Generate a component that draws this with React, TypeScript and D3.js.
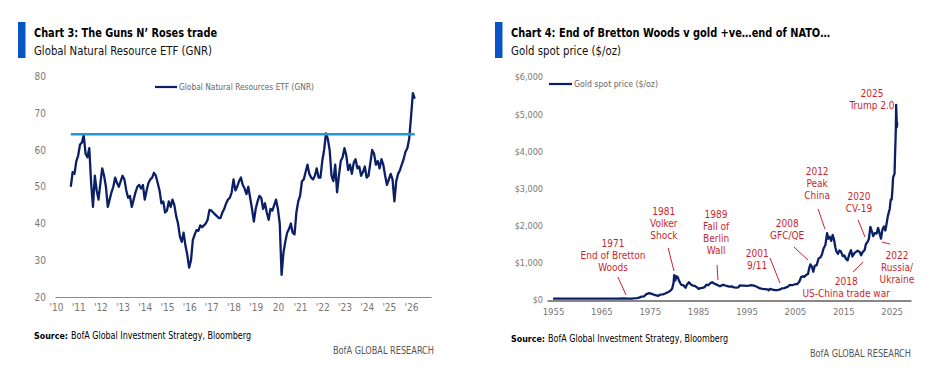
import { useEffect, useRef } from "react";
import * as d3 from "d3";

const FONT = "'Liberation Sans Narrow', 'DejaVu Sans Condensed', 'Roboto Condensed', Roboto, sans-serif";
const NAVY = "#0b1f66";
const RED = "#cc1f2d";

// GNR monthly closes, first point Sep 2010
const gnrStart = 2010 + 8 / 12;
const gnr2010 = [50, 54, 53.5, 57];
const gnr2011 = [58.5, 61.5, 62, 64, 59, 58, 60.5, 51, 44.5, 53, 49, 46.5];
const gnr2012 = [51, 55, 53, 50, 44.5, 46.5, 48.5, 50, 52.5, 51, 50, 51.5];
const gnr2013 = [53, 52, 49, 47, 47.5, 44.5, 46.5, 48.5, 50, 50.5, 49.5, 50.5];
const gnr2014 = [46.5, 49, 51, 52, 52.5, 53.8, 53, 51, 49, 45.5, 46, 43];
const gnr2015 = [43.5, 46, 44.5, 46.5, 45, 42, 40, 36.5, 35, 37.5, 34, 31.5];
const gnr2016 = [28, 30, 35.5, 37, 38.2, 38, 39.5, 39, 39.5, 40, 41, 43.7];
const gnr2017 = [43.5, 43, 42.5, 42, 41.5, 41.5, 43, 44, 45.5, 46.5, 47, 48.5];
const gnr2018 = [52, 49, 50, 51.5, 52.5, 50.5, 49.5, 48, 50, 47, 44, 40.5];
const gnr2019 = [44, 46, 47.5, 47, 44, 45.5, 43, 41, 44, 43.5, 45, 46.5];
const gnr2020 = [44, 40, 26, 32, 35, 37.5, 38.5, 40, 37.5, 37, 43, 46];
const gnr2021 = [47.5, 51.5, 52, 54, 56, 53.5, 52.5, 52, 53, 55, 52.5, 52.5];
const gnr2022 = [57, 60, 64.5, 63, 60, 53, 51.5, 56, 48.5, 53, 57, 58];
const gnr2023 = [60.5, 58.5, 54.5, 56, 53.5, 56.5, 57.5, 55, 55.5, 53, 54, 55.5];
const gnr2024 = [52.5, 53, 56.5, 60, 59, 56, 57, 55, 57.5, 56, 53, 50.5];
const gnr2025 = [52, 53.5, 52, 46, 51.5, 53.5, 54.5, 56, 57.5, 59.5, 60.5, 63];
const gnr2026 = [69, 75.5, 74];
const gnrValues = [
  ...gnr2010, ...gnr2011, ...gnr2012, ...gnr2013, ...gnr2014, ...gnr2015, ...gnr2016, ...gnr2017,
  ...gnr2018, ...gnr2019, ...gnr2020, ...gnr2021, ...gnr2022, ...gnr2023, ...gnr2024, ...gnr2025, ...gnr2026,
];
const gnrResistance = 64.3;
const gnrYearTicks = [2010, 2011, 2012, 2013, 2014, 2015, 2016, 2017, 2018, 2019, 2020, 2021, 2022, 2023, 2024, 2025, 2026];
const gnrYearLabels = ["'10", "'11", "'12", "'13", "'14", "'15", "'16", "'17", "'18", "'19", "20", "'21", "'22", "'23", "'24", "'25", "'26"];
const gnrYTicks = [20, 30, 40, 50, 60, 70, 80];

// Gold spot price ($/oz)
const goldDates = [
  1955.0, 1957.0, 1960.0, 1962.0, 1965.0, 1967.0, 1968.5, 1969.5, 1970.5, 1971.5, 1972.3, 1972.8,
  1973.3, 1973.8, 1974.3, 1974.9, 1975.4, 1975.9, 1976.4, 1976.7, 1977.2, 1977.7, 1978.2, 1978.7,
  1979.2, 1979.6, 1979.9, 1980.05, 1980.25, 1980.5, 1980.75, 1981.1, 1981.5, 1981.9, 1982.4, 1982.7,
  1983.1, 1983.5, 1983.9, 1984.3, 1984.7, 1985.1, 1985.5, 1985.9, 1986.3, 1986.7, 1987.1, 1987.5,
  1987.9, 1988.3, 1988.7, 1989.1, 1989.5, 1989.9, 1990.2, 1990.6, 1990.9, 1991.4, 1991.9, 1992.4,
  1992.9, 1993.3, 1993.6, 1994.0, 1994.5, 1995.0, 1995.5, 1996.0, 1996.5, 1996.9, 1997.3, 1997.8,
  1998.3, 1998.8, 1999.3, 1999.6, 1999.8, 2000.2, 2000.6, 2001.0, 2001.4, 2001.8, 2002.3, 2002.8,
  2003.2, 2003.6, 2003.9, 2004.3, 2004.7, 2005.1, 2005.5, 2005.9, 2006.3, 2006.6, 2006.9, 2007.3,
  2007.7, 2008.0, 2008.2, 2008.5, 2008.8, 2009.1, 2009.5, 2009.9, 2010.3, 2010.6, 2010.9, 2011.3,
  2011.65, 2011.9, 2012.2, 2012.5, 2012.8, 2013.1, 2013.35, 2013.6, 2013.9, 2014.2, 2014.5, 2014.9,
  2015.2, 2015.6, 2015.9, 2016.3, 2016.6, 2016.9, 2017.3, 2017.7, 2018.0, 2018.4, 2018.7, 2019.0,
  2019.4, 2019.7, 2020.0, 2020.3, 2020.6, 2020.9, 2021.2, 2021.5, 2021.9, 2022.2, 2022.5, 2022.8,
  2023.1, 2023.4, 2023.7, 2023.95, 2024.2, 2024.4, 2024.6, 2024.8, 2025.0, 2025.15, 2025.3, 2025.45,
  2025.6, 2025.7, 2025.8, 2025.87, 2025.93, 2026.0, 2026.08, 2026.15,
];
const goldPrices = [
  35, 35, 35, 35, 35, 35, 39, 41, 36, 41, 50, 64,
  90, 100, 160, 185, 165, 140, 125, 110, 145, 150, 175, 210,
  240, 300, 450, 670, 520, 640, 620, 500, 410, 400, 330, 420,
  480, 420, 390, 380, 345, 300, 320, 325, 345, 410, 400, 450,
  480, 445, 420, 395, 370, 400, 410, 390, 380, 360, 365, 340,
  335, 340, 390, 385, 385, 380, 385, 400, 385, 370, 345, 310,
  300, 295, 285, 258, 300, 285, 275, 265, 268, 280, 310, 320,
  340, 365, 405, 400, 410, 425, 430, 490, 620, 640, 620, 670,
  700, 880, 960, 900, 760, 920, 940, 1120, 1150, 1230, 1380, 1480,
  1800, 1650, 1700, 1590, 1750, 1620, 1420, 1300, 1240, 1330, 1310, 1180,
  1200, 1100, 1070, 1250, 1340, 1170, 1260, 1300, 1330, 1290, 1200, 1290,
  1340, 1510, 1560, 1650, 1970, 1850, 1720, 1800, 1790, 1940, 1800, 1650,
  1900, 1980, 1870, 2050, 2250, 2350, 2450, 2700, 2700, 2950, 3300, 3350,
  3400, 3900, 4300, 4650, 5250, 5000, 4650, 4780,
];
const goldYearTicks = [1955, 1965, 1975, 1985, 1995, 2005, 2015, 2025];
const goldYTicks = [0, 1000, 2000, 3000, 4000, 5000, 6000];

// event annotations in data units: [year, price] of first text line, leader start/end
const goldEvents = [
  { lines: ["1971", "End of Bretton", "Woods"], at: [1967.4, 1426], leader: [[1968.4, 619], [1970.1, 134]] },
  { lines: ["1981", "Volker", "Shock"], at: [1977.9, 2287], leader: [[1978.8, 1399], [1980.0, 780]] },
  { lines: ["1989", "Fall of", "Berlin", "Wall"], at: [1988.7, 2206], leader: [[1988.9, 942], [1989.1, 538]] },
  { lines: ["2001", "9/11"], at: [1997.2, 1157], leader: [[1999.85, 1130], [2001.9, 457]] },
  { lines: ["2008", "GFC/QE"], at: [2003.4, 1964], leader: [[2004.8, 1426], [2007.7, 1076]] },
  { lines: ["2012", "Peak", "China"], at: [2009.6, 3363], leader: [[2009.8, 2448], [2011.2, 1910]] },
  { lines: ["2020", "CV-19"], at: [2018.25, 2690], leader: [[2018.05, 2152], [2019.5, 1695]] },
  { lines: ["2018", "US-China trade war"], at: [2015.6, 404], leader: [[2017.0, 753], [2019.1, 1022]] },
  { lines: ["2022", "Russia/", "Ukraine"], at: [2026.1, 1103], leader: [[2023.0, 1560], [2024.7, 1506]] },
  { lines: ["2025", "Trump 2.0"], at: [2020.95, 5461], leader: null },
];

function styleAxis(sel: any, size: number) {
  sel.selectAll("text").attr("fill", "#777").attr("font-family", FONT).attr("font-size", size);
}

function GnrChart() {
  const ref = useRef<SVGGElement>(null);
  useEffect(() => {
    const g = d3.select(ref.current);
    g.selectAll("*").remove();

    const x = d3.scaleLinear().domain([2009.955, 2026.9]).range([55, 431]);
    const y = d3.scaleLinear().domain([20, 80]).range([297, 76.5]);

    const yAxis = g.append("g").attr("transform", "translate(55,0)")
      .call(d3.axisLeft(y).tickValues(gnrYTicks).tickSize(0).tickPadding(9));
    yAxis.select(".domain").remove();
    styleAxis(yAxis, 10);

    const xAxis = g.append("g").attr("transform", "translate(0,297)")
      .call(d3.axisBottom(x).tickValues(gnrYearTicks).tickSize(0).tickPadding(7)
        .tickFormat((d, i) => gnrYearLabels[i]));
    xAxis.select(".domain").attr("stroke", "#8a8a8a").attr("stroke-width", 1.2);
    styleAxis(xAxis, 10);

    const pts = gnrValues.map((v, i) => [gnrStart + i / 12, v] as [number, number]);
    const line = d3.line<[number, number]>().x(d => x(d[0])).y(d => y(d[1]));
    g.append("path").datum(pts).attr("d", line).attr("fill", "none")
      .attr("stroke", NAVY).attr("stroke-width", 2.3).attr("stroke-linejoin", "round");

    g.append("line")
      .attr("x1", x(pts[0][0])).attr("x2", x(pts[pts.length - 1][0]))
      .attr("y1", y(gnrResistance)).attr("y2", y(gnrResistance))
      .attr("stroke", "#1e9ad6").attr("stroke-width", 2.6);

    // legend
    g.append("line").attr("x1", 155).attr("x2", 177).attr("y1", 87).attr("y2", 87)
      .attr("stroke", NAVY).attr("stroke-width", 2.2);
    g.append("text").attr("x", 179).attr("y", 90).attr("font-family", FONT).attr("font-size", 9)
      .attr("textLength", 135).attr("lengthAdjust", "spacingAndGlyphs")
      .attr("fill", "#666").text("Global Natural Resources ETF (GNR)");
  }, []);
  return <g ref={ref} />;
}

function GoldChart() {
  const ref = useRef<SVGGElement>(null);
  useEffect(() => {
    const g = d3.select(ref.current);
    g.selectAll("*").remove();

    const x = d3.scaleLinear().domain([1953.75, 2029]).range([547, 911]);
    const y = d3.scaleLinear().domain([0, 6000]).range([300, 77]);

    const yAxis = g.append("g").attr("transform", "translate(547,0)")
      .call(d3.axisLeft(y).tickValues(goldYTicks).tickSize(0).tickPadding(4)
        .tickFormat(d => "$" + d3.format(",")(d as number)));
    yAxis.select(".domain").remove();
    styleAxis(yAxis, 9);

    const pts = goldDates.map((t, i) => [t, goldPrices[i]] as [number, number]);
    const line = d3.line<[number, number]>().x(d => x(d[0])).y(d => y(d[1]));
    g.append("path").datum(pts).attr("d", line).attr("fill", "none")
      .attr("stroke", NAVY).attr("stroke-width", 2.3).attr("stroke-linejoin", "round");

    const xAxis = g.append("g").attr("transform", "translate(0,300.5)")
      .call(d3.axisBottom(x).tickValues(goldYearTicks).tickSize(0).tickPadding(8).tickFormat(d3.format("d")));
    xAxis.select(".domain").attr("stroke", "#111").attr("stroke-width", 1.2);
    styleAxis(xAxis, 9.5);

    const ann = g.append("g");
    goldEvents.forEach(ev => {
      ev.lines.forEach((s, i) => {
        ann.append("text").attr("text-anchor", "middle").attr("font-family", FONT)
          .attr("font-size", 10).attr("fill", RED)
          .attr("x", x(ev.at[0])).attr("y", y(ev.at[1]) + i * 12).text(s);
      });
      if (ev.leader) {
        ann.append("line")
          .attr("x1", x(ev.leader[0][0])).attr("y1", y(ev.leader[0][1]))
          .attr("x2", x(ev.leader[1][0])).attr("y2", y(ev.leader[1][1]))
          .attr("stroke", RED).attr("stroke-width", 1);
      }
    });

    g.append("line").attr("x1", 549).attr("x2", 572).attr("y1", 84).attr("y2", 84)
      .attr("stroke", NAVY).attr("stroke-width", 2.2);
    g.append("text").attr("x", 574).attr("y", 87).attr("font-family", FONT).attr("font-size", 9)
      .attr("textLength", 84).attr("lengthAdjust", "spacingAndGlyphs")
      .attr("fill", "#666").text("Gold spot price ($/oz)");
  }, []);
  return <g ref={ref} />;
}

function Header({ x, title, subtitle, titleW, subW }: { x: number; title: string; subtitle: string; titleW: number; subW: number }) {
  return (
    <g fontFamily={FONT}>
      <rect x={x - 16} y={22} width={7.5} height={36} fill="#0a55c4" />
      <text x={x} y={37} fontSize={13} fontWeight="bold" fill="#000" textLength={titleW} lengthAdjust="spacingAndGlyphs">{title}</text>
      <text x={x} y={55} fontSize={13} fill="#111" textLength={subW} lengthAdjust="spacingAndGlyphs">{subtitle}</text>
    </g>
  );
}

function Footer({ x, right, y }: { x: number; right: number; y: number }) {
  return (
    <g fontFamily={FONT}>
      <text x={x} y={y} fontSize={9.2} fontWeight="bold" fill="#000" textLength={34} lengthAdjust="spacingAndGlyphs">Source:</text>
      <text x={x + 37} y={y} fontSize={10.5} fill="#000" textLength={180} lengthAdjust="spacingAndGlyphs">BofA Global Investment Strategy, Bloomberg</text>
      <text x={right - 101} y={y + 15} fontSize={10.5} fill="#555" textLength={101} lengthAdjust="spacingAndGlyphs">BofA GLOBAL RESEARCH</text>
    </g>
  );
}

export default function App() {
  return (
    <svg width={938} height={387} style={{ position: "absolute", left: 0, top: 0, background: "#fff" }}>
      <rect width={938} height={387} fill="#fff" />
      <Header x={34} title="Chart 3: The Guns N’ Roses trade" subtitle="Global Natural Resource ETF (GNR)" titleW={183} subW={178} />
      <Header x={511} title="Chart 4: End of Bretton Woods v gold +ve…end of NATO…" subtitle="Gold spot price ($/oz)" titleW={319} subW={110} />
      <GnrChart />
      <GoldChart />
      <Footer x={34} right={434} y={339} />
      <Footer x={511} right={911} y={342} />
    </svg>
  );
}
